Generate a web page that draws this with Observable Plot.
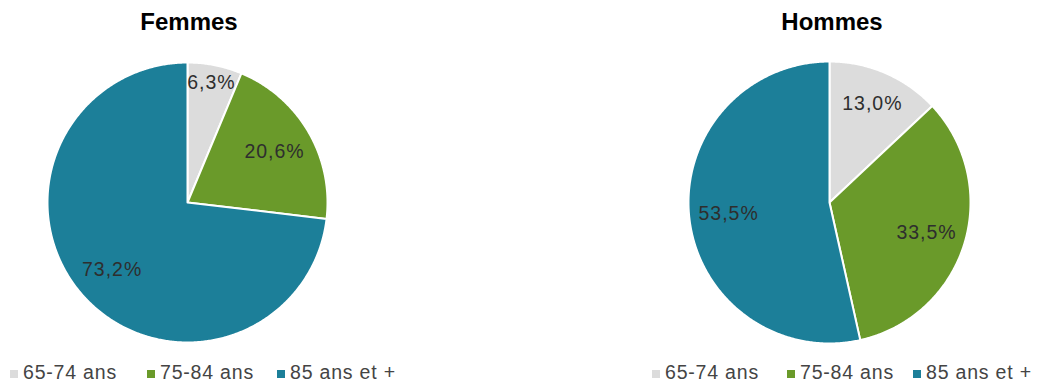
<!DOCTYPE html>
<html><head><meta charset="utf-8">
<script src="https://cdn.jsdelivr.net/npm/d3@7"></script>
<script src="https://cdn.jsdelivr.net/npm/@observablehq/plot@0.6"></script>
<style>
body{margin:0;background:#fff;font-family:"Liberation Sans",Arial,sans-serif;}
#root{position:relative;width:1041px;height:385px;overflow:hidden;}
.pie{position:absolute;}
.pie svg text{letter-spacing:1px;}
.title{position:absolute;font-weight:bold;font-size:24px;color:#000;transform:translateX(-50%);white-space:nowrap;}
.legend{position:absolute;font-size:19.5px;color:#444;letter-spacing:0.8px;white-space:nowrap;}
.legend span.sw{display:inline-block;width:8px;height:8px;margin-right:5px;vertical-align:1px;}
.legend span.item{position:absolute;top:0;}
</style>
</head><body><div id="root"></div>
<script>
const categories = ["65-74 ans", "75-84 ans", "85 ans et +"];
const femmes = [6.3, 20.6, 73.2];
const hommes = [13.0, 33.5, 53.5];
const colors = ["#dcdcdc", "#6a9a2a", "#1c7f99"];
const titles = ["Femmes", "Hommes"];

const root = document.getElementById("root");

function slicePoints(values) {
  const arcs = d3.pie().sort(null).value(d => d)(values);
  return arcs.map((a, i) => {
    const pts = [{x: 0, y: 0}];
    const n = Math.max(2, Math.ceil((a.endAngle - a.startAngle) / (Math.PI / 360)));
    for (let k = 0; k <= n; k++) {
      const t = a.startAngle + (a.endAngle - a.startAngle) * k / n;
      pts.push({x: Math.sin(t), y: Math.cos(t)});
    }
    pts.push({x: 0, y: 0});
    const mid = (a.startAngle + a.endAngle) / 2;
    const p = values[i];
    const rr = p < 10 ? 0.87 : p < 15 ? 0.765 : 0.72;
    return {pts, cat: categories[i], color: colors[i],
      label: {x: Math.sin(mid) * rr, y: Math.cos(mid) * rr, text: p.toFixed(1).replace(".", ",") + "%"}};
  });
}

function drawPie(values, cx, cy, r) {
  const m = 10;
  const size = 2 * r + 2 * m;
  const slices = slicePoints(values);
  const chart = Plot.plot({
    width: size, height: size,
    margin: m,
    x: {domain: [-1, 1], axis: null},
    y: {domain: [-1, 1], axis: null},
    marks: [
      ...slices.map(s => Plot.line(s.pts, {x: "x", y: "y", fill: s.color, stroke: "white", strokeWidth: 2, strokeLinejoin: "round", curve: "linear"})),
      Plot.text(slices.map(s => s.label), {x: "x", y: "y", text: "text", fontSize: 19.5, fill: "#2e2e2e", fontFamily: "Liberation Sans, Arial, sans-serif"})
    ]
  });
  const div = document.createElement("div");
  div.className = "pie";
  div.style.left = (cx - size / 2) + "px";
  div.style.top = (cy - size / 2) + "px";
  div.appendChild(chart);
  root.appendChild(div);
}

function drawTitle(text, x, y) {
  const d = document.createElement("div");
  d.className = "title";
  d.textContent = text;
  d.style.left = x + "px";
  d.style.top = y + "px";
  root.appendChild(d);
}

function drawLegend(left, offsets, top) {
  const d = document.createElement("div");
  d.className = "legend";
  d.style.left = left + "px";
  d.style.top = top + "px";
  categories.forEach((c, i) => {
    const it = document.createElement("span");
    it.className = "item";
    it.style.left = offsets[i] + "px";
    const sw = document.createElement("span");
    sw.className = "sw";
    sw.style.background = colors[i];
    it.appendChild(sw);
    it.appendChild(document.createTextNode(c));
    d.appendChild(it);
  });
  root.appendChild(d);
}

drawPie(femmes, 187, 202, 140);
drawPie(hommes, 829, 201.5, 141);
drawTitle(titles[0], 189, 8);
drawTitle(titles[1], 832, 8);
drawLegend(10, [0, 137, 267], 361);
drawLegend(652, [0, 135, 261], 361);
</script></body></html>
